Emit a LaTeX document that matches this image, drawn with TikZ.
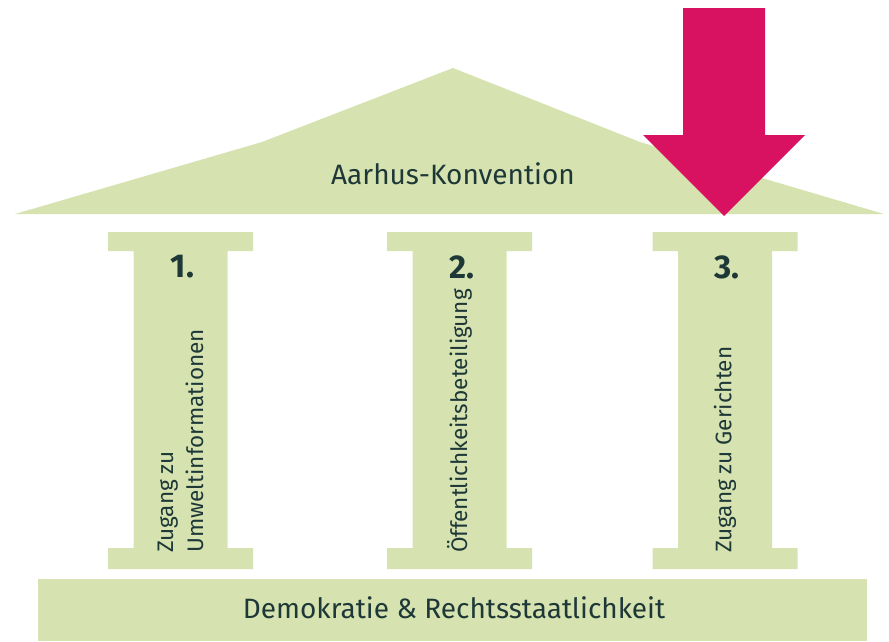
\documentclass[tikz,border=0pt]{standalone}
\usepackage{fontspec}
\setmainfont{Fira Sans}
\definecolor{temple}{RGB}{214,227,176}
\definecolor{ink}{RGB}{30,56,56}
\definecolor{signal}{RGB}{216,17,96}

\begin{document}
\begin{tikzpicture}[x=1pt,y=-1pt,text=ink,font=\fontsize{22.5}{30}\selectfont]
\useasboundingbox (0,0) rectangle (889,641);
% roof
\fill[temple] (15,214) -- (262,142) -- (453,68) -- (640,142) -- (884,214) -- cycle;
\node (roof) at (453,174) {\fontsize{28}{30}\selectfont Aarhus-Konvention};
% foundation
\fill[temple] (38,579) rectangle (867,641);
\node (base) at (454,608) {\fontsize{28}{30}\selectfont Demokratie \& Rechtsstaatlichkeit};
% pillars
\foreach \c/\n/\t in {180.5/1/{Zugang zu\\Umweltinformationen}, 459.5/2/{Öffentlichkeitsbeteiligung}, 725/3/{Zugang zu Gerichten}} {
  \fill[temple] (\c-72.5,232) -- (\c+72.5,232) -- (\c+72.5,251) -- (\c+47,251) -- (\c+47,548)
    -- (\c+72.5,548) -- (\c+72.5,569) -- (\c-72.5,569) -- (\c-72.5,548) -- (\c-47,548)
    -- (\c-47,251) -- (\c-72.5,251) -- cycle;
  \node[font=\fontsize{33}{36}\selectfont\bfseries] (num\n) at (\c+2,267) {\n.};
  \node[rotate=90, anchor=west, align=left, inner sep=0pt] (label\n) at (\c,553) {\t};
}
% arrow
\fill[signal] (683,8) -- (765,8) -- (765,135) -- (805,135) -- (724,216) -- (643,135) -- (683,135) -- cycle;
\end{tikzpicture}
\end{document}
